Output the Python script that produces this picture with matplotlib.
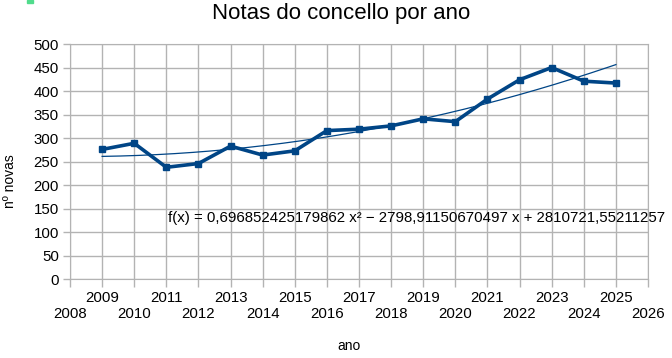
import numpy as np
import matplotlib
matplotlib.use("Agg")
import matplotlib.pyplot as plt
from matplotlib.patches import Rectangle

plt.rcParams['font.family'] = ['Liberation Sans', 'DejaVu Sans']

anos = [2009, 2010, 2011, 2012, 2013, 2014, 2015, 2016, 2017,
        2018, 2019, 2020, 2021, 2022, 2023, 2024, 2025]
novas = [276, 289, 238, 246, 283, 264, 273, 316, 319,
         326, 341, 335, 383, 424, 450, 421, 417]
# polynomial trendline coefficients as printed on the chart
coef = [0.696852425179862, -2798.91150670497, 2810721.55211257]
eq_text = "f(x) = 0,696852425179862 x² − 2798,91150670497 x + 2810721,55211257"

azul = '#004586'
grid = '#b3b3b3'
fs = 10.8

fig = plt.figure(figsize=(6.72, 3.58), dpi=100)
ax = fig.add_axes([70/672, 1-279.3/358, 578/672, 235.3/358])

ax.plot(anos, novas, '-s', color=azul, lw=2.6, ms=4.5, zorder=3)
xt = np.linspace(anos[0], anos[-1], 200)
ax.plot(xt, np.polyval(coef, xt), '-', color=azul, lw=0.9, zorder=2)

ax.set_xlim(2008, 2026)
ax.set_ylim(0, 500)
ax.set_yticks(range(0, 501, 50))
ax.set_xticks(range(2008, 2027, 2))
ax.set_xticks(range(2009, 2026, 2), minor=True)
ax.set_xticklabels([str(y) for y in range(2008, 2027, 2)])
ax.set_xticklabels([str(y) for y in range(2009, 2026, 2)], minor=True)
ax.tick_params(axis='x', which='major', length=6, width=1, color=grid, pad=14, labelsize=fs)
ax.tick_params(axis='x', which='minor', length=6, width=1, color=grid, pad=2.5, labelsize=fs)
ax.tick_params(axis='y', length=5, width=1, color=grid, pad=3, labelsize=fs)
ax.grid(True, which='both', color=grid, lw=1)
ax.set_axisbelow(True)
for s in ax.spines.values():
    s.set_color(grid)

ax.text(168/672, 1-218/358, eq_text, transform=fig.transFigure,
        fontsize=fs, va='center', ha='left')

fig.text(341/672, 1-13/358, "Notas do concello por ano", fontsize=16,
         ha='center', va='center')
fig.text(10/672, 1-181/358, "nº novas", fontsize=10, rotation=90,
         ha='center', va='center')
fig.text(349/672, 1-346/358, "ano", fontsize=10, ha='center', va='center')
fig.patches.append(Rectangle((27/672, 1-3/358), 6/672, 3/358,
                             transform=fig.transFigure, color='#50dc8c'))

fig.savefig("out.png", dpi=100)
